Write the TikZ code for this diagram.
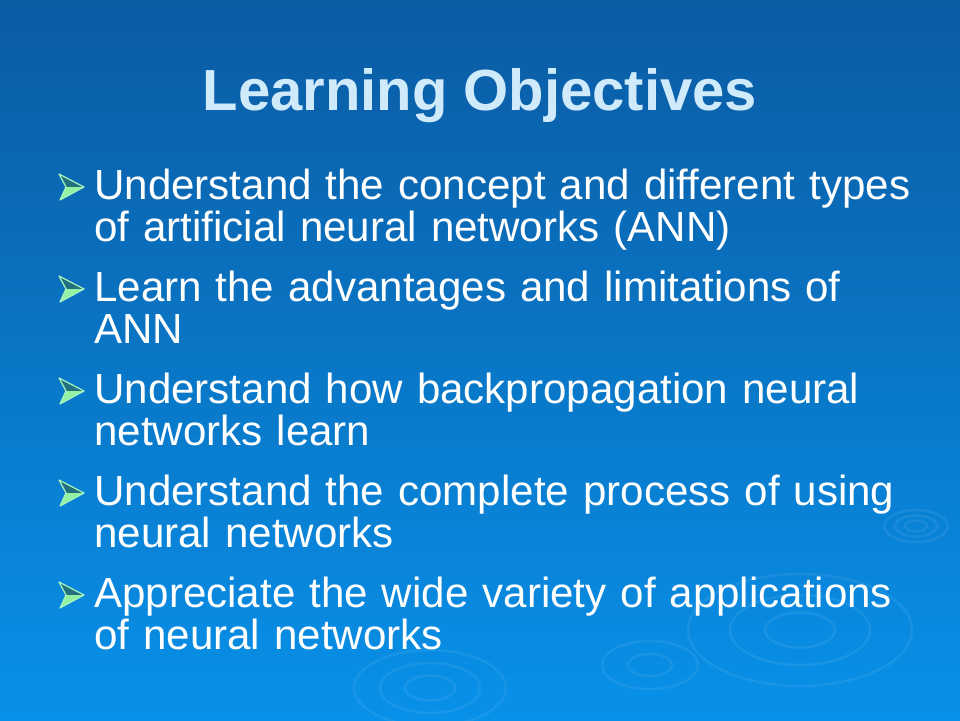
\documentclass[tikz,border=0pt]{standalone}
\usepackage{fontspec}
\setmainfont{Liberation Sans}

\definecolor{bgtop}{HTML}{0B5BA3}
\definecolor{bgbot}{HTML}{0891E9}
\definecolor{titlecol}{HTML}{CFEAFB}
\definecolor{arrowlight}{HTML}{92F2A2}
\definecolor{arrowdark}{HTML}{23707E}
\definecolor{arrowedge}{HTML}{A6F4BE}

\tikzset{
  slidetitle/.style={anchor=base, inner sep=0pt, text=titlecol,
                     font=\fontsize{58}{60}\bfseries\selectfont},
  item/.style={anchor=base west, inner sep=0pt, text width=860pt,
               align=left, text=white, font=\fontsize{42.1}{42}\selectfont},
  ripple/.style={white, opacity=0.07, line width=2.5pt},
}

\begin{document}
\begin{tikzpicture}[x=1pt, y=-1pt, line join=round]

    \useasboundingbox (0,0) rectangle (960,720);
    \shade [top color=bgtop, bottom color=bgbot] (0,0) rectangle (960,720);

    % ripples in the water
    \foreach \cx/\cy/\r in {800/630/35, 800/630/70, 800/630/112,
                             650/665/22, 650/665/48,
                             430/688/25, 430/688/50, 430/688/76,
                             916/526/11, 916/526/21, 916/526/32}
        \draw [ripple] (\cx,\cy) ellipse [x radius=\r pt, y radius=0.5*\r pt];

    % title
    \node [slidetitle] (title) at (480,110) {Learning Objectives};

    % bullet list
    \foreach \n/\yb/\txt in {
        1/199/{Understand the concept and different types\\of artificial neural networks (ANN)},
        2/301/{Learn the advantages and limitations of\\ANN},
        3/403/{Understand how backpropagation neural\\networks learn},
        4/505/{Understand the complete process of using\\neural networks},
        5/607/{Appreciate the wide variety of applications\\of neural networks}}{

        \fill [arrowdark] (59,\yb-25) -- (84,\yb-12) -- (66,\yb-12) -- cycle;
        \fill [arrowlight] (66,\yb-12) -- (84,\yb-12) -- (60,\yb+1) -- cycle;
        \draw [arrowedge, line width=1.2pt]
            (59,\yb-25) -- (84,\yb-12) -- (60,\yb+1) -- (66,\yb-12) -- cycle;

        \node [item] (item\n) at (94,\yb) {\txt};
    }

\end{tikzpicture}
\end{document}
